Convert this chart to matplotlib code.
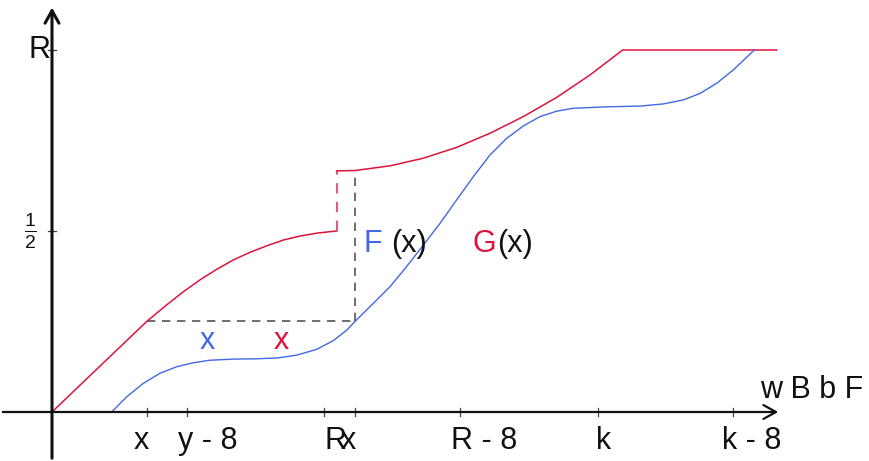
import matplotlib
matplotlib.use("Agg")
import matplotlib.pyplot as plt

plt.rcParams["font.family"] = ["Liberation Sans", "DejaVu Sans"]
plt.rcParams["mathtext.fontset"] = "custom"
plt.rcParams["mathtext.rm"] = "Liberation Sans"
plt.rcParams["mathtext.it"] = "Liberation Sans"

RED = "#dc143c"
BLUE = "#4169e1"

# G(x), left piece (before the jump) and right piece (after the jump)
g1_x = [0.0, 0.947, 1.147, 1.313, 1.48, 1.647, 1.813, 1.98, 2.147, 2.313,
        2.48, 2.647, 2.847]
g1_y = [0.0, 0.25, 0.296, 0.332, 0.365, 0.394, 0.42, 0.441, 0.459, 0.475,
        0.486, 0.494, 0.5]
g2_x = [2.847, 3.03, 3.38, 3.713, 4.047, 4.38, 4.713, 5.047, 5.38, 5.707, 7.247]
g2_y = [0.666, 0.667, 0.680, 0.701, 0.731, 0.770, 0.816, 0.869, 0.931, 1.0, 1.0]

# F(x)
f_x = [0.597, 0.747, 0.913, 1.08, 1.247, 1.413, 1.58, 1.813, 2.047, 2.247,
       2.447, 2.647, 2.813, 2.947, 3.03, 3.213, 3.38, 3.547, 3.713, 3.88,
       4.047, 4.213, 4.38, 4.547, 4.713, 4.88, 5.047, 5.213, 5.547, 5.88,
       6.113, 6.313, 6.48, 6.647, 6.813, 7.023]
f_y = [0.0, 0.042, 0.079, 0.107, 0.125, 0.136, 0.143, 0.146, 0.147, 0.149,
       0.157, 0.173, 0.197, 0.226, 0.25, 0.300, 0.346, 0.402, 0.461, 0.521,
       0.586, 0.650, 0.710, 0.756, 0.790, 0.816, 0.831, 0.839, 0.843, 0.845,
       0.851, 0.862, 0.880, 0.908, 0.945, 1.0]

# x ticks and their (garbled) labels
tick_x = [0.95, 1.35, 2.72, 3.03, 4.08, 5.46, 6.81]
tick_labels = ["x", "y - 8", "R", "x", "R - 8", "k", "k - 8"]
label_x = [0.89, 1.56, 2.83, 2.96, 4.32, 5.52, 7.00]
y_ticks = [0.5, 1.0]

fig = plt.figure(figsize=(8.69, 4.61), dpi=100)
ax = fig.add_axes([0, 0, 1, 1])
ax.set_xlim(-0.52, 8.17)
ax.set_ylim(-0.1354, 1.1381)
ax.axis("off")

# axes with arrows
ax.annotate("", xy=(7.29, 0), xytext=(-0.52, 0),
            arrowprops=dict(arrowstyle="->, head_width=0.25, head_length=0.45",
                            lw=1.6, color="#111111", mutation_scale=20))
ax.annotate("", xy=(0, 1.125), xytext=(0, -0.1354),
            arrowprops=dict(arrowstyle="->, head_width=0.25, head_length=0.45",
                            lw=2.2, color="#111111", mutation_scale=20))

for tx in tick_x:
    ax.plot([tx, tx], [-0.011, 0.011], color="#444444", lw=0.9)
for ty in y_ticks:
    ax.plot([-0.04, 0.04], [ty, ty], color="#444444", lw=0.9)

# dashed helper lines
ax.plot([g1_x[1], f_x[14]], [0.25, 0.25], ls=(0, (5, 4)), color="#555555", lw=1.2)
ax.plot([f_x[14], f_x[14]], [0.25, g2_y[0]], ls=(0, (5, 4)), color="#555555", lw=1.2)
ax.plot([g1_x[-1], g1_x[-1]], [g1_y[-1], g2_y[0]], ls=(0, (5, 4)),
        color="#e0607a", lw=1.5)

ax.plot(g1_x, g1_y, color=RED, lw=1.1, solid_joinstyle="round")
ax.plot(g2_x, g2_y, color=RED, lw=1.1, solid_joinstyle="round")
ax.plot(f_x, f_y, color=BLUE, lw=1.0, solid_joinstyle="round")

for lx, lab in zip(label_x, tick_labels):
    ax.text(lx, -0.04, lab, fontsize=22, ha="center", va="top", color="#111111")

ax.text(-0.02, 1.0, "R", fontsize=22, ha="right", va="center", color="#111111")
ax.text(-0.22, 0.5, r"$\frac{1}{2}$", fontsize=20, ha="center", va="center",
        color="#111111")
ax.text(7.60, 0.02, "w B b F", fontsize=22, ha="center", va="bottom",
        color="#111111")

ax.text(3.21, 0.465, "F", fontsize=22, color=BLUE, ha="center", va="center")
ax.text(3.57, 0.465, "(x)", fontsize=22, color="#111111", ha="center", va="center")
ax.text(4.32, 0.465, "G", fontsize=22, color=RED, ha="center", va="center")
ax.text(4.63, 0.465, "(x)", fontsize=22, color="#111111", ha="center", va="center")
ax.text(1.55, 0.195, "x", fontsize=22, color=BLUE, ha="center", va="center")
ax.text(2.29, 0.195, "x", fontsize=22, color=RED, ha="center", va="center")

fig.savefig("out.png", dpi=100)
